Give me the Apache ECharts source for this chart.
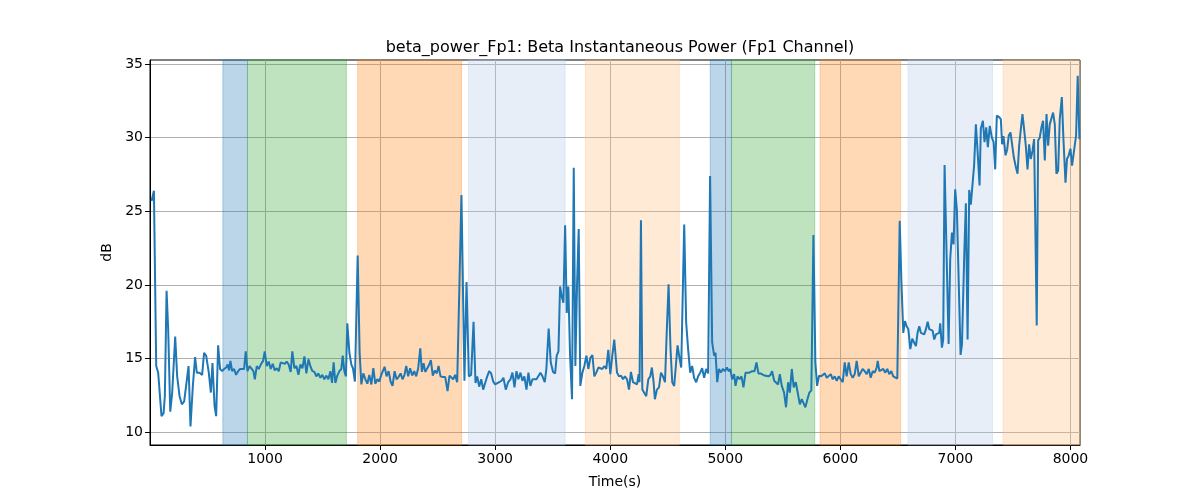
<!DOCTYPE html>
<html>
<head>
<meta charset="utf-8">
<script src="https://cdn.jsdelivr.net/npm/echarts@6/dist/echarts.min.js"></script>
<style>html,body{margin:0;padding:0;background:#fff;}#c{width:1200px;height:500px;}</style>
</head>
<body>
<div id="c"></div>
<script>
const times = [14,34,54,71,100,118,129,144,158,176,193,219,236,257,277,297,314,335,352,372,392,407,430,453,470,488,511,529,543,561,575,592,609,627,644,662,676,688,699,714,731,748,766,783,800,818,832,847,865,882,899,911,928,945,963,983,997,
1015,1032,1049,1067,1084,1101,1119,1136,1153,1171,1188,1205,1223,1237,1255,1273,1290,1307,1325,1342,1359,1377,1394,1411,1429,1446,1463,1481,1498,1515,1533,1550,1568,1582,1596,1611,1628,1646,1663,1675,1689,1703,1715,1733,1750,1764,1781,1805,1822,1837,1854,1872,1889,1906,1924,1941,1958,1976,1993,2010,
2022,2039,2056,2074,2091,2108,2126,2143,2160,2178,2195,2212,2227,2244,2261,2279,2296,2314,2331,2349,2363,2378,2392,2410,2427,2441,2458,2476,2493,2508,2525,2545,2566,2586,2603,2620,2635,2652,2670,2687,2707,2733,2751,2771,2791,2812,2829,2844,2861,2879,2896,2913,2931,2948,2965,2983,3000,
3017,3035,3055,3072,3092,3113,3133,3150,3168,3185,3202,3220,3237,3254,3272,3289,3306,3324,3341,3359,3376,3393,3411,3431,3445,3465,3483,3503,3521,3535,3550,3564,3578,3593,3608,3622,3636,3651,3668,3683,3697,3712,3726,3740,3758,3775,3793,3810,3827,3845,3862,3879,3897,3914,3931,3949,3966,3983,4001,4018,4035,
4059,4076,4094,4111,4128,4146,4163,4180,4198,4215,4233,4247,4255,4267,4279,4296,4313,4331,4348,4362,4377,4388,4406,4424,4441,4458,4476,4490,4507,4524,4539,4556,4568,4585,4602,4617,4643,4660,4677,4695,4712,4729,4747,4764,4782,4799,4816,4834,4851,4868,4886,4903,4915,4930,4945,4962,4979,4997,5014,5031,
5043,5060,5077,5089,5106,5124,5141,5158,5176,5193,5210,5234,5254,5271,5288,5306,5323,5341,5358,5375,5393,5407,5425,5442,5459,5474,5491,5511,5528,5546,5561,5578,5595,5613,5630,5648,5665,5682,5696,5714,5731,5748,5766,5783,5798,5815,5833,5850,5865,5882,5899,5917,5934,5951,5969,5986,6003,6021,6038,
6055,6073,6090,6108,6125,6142,6160,6177,6194,6212,6229,6247,6264,6281,6299,6316,6325,6339,6356,6373,6391,6408,6425,6443,6460,6477,6495,6516,6530,6547,6562,6576,6591,6608,6625,6642,6657,6671,6686,6700,6715,6729,6744,6759,6773,6787,6802,6816,6831,6845,6860,6868,6883,6894,6906,6941,6955,6970,6984,6998,7013,7028,7045,7057,7077,7091,7106,7120,7134,7149,7163,7178,
7195,7210,7221,7239,7253,7268,7282,7299,7317,7332,7346,7360,7380,7395,7406,7418,7436,7450,7464,7479,7493,7508,7523,7540,7554,7569,7583,7597,7612,7627,7641,7655,7670,7684,7696,7707,7719,7733,7748,7762,7777,7792,7806,7820,7835,7849,7864,7878,7893,7907,7925,7939,7957,7970,7985,8000,8014,8029,8049,8063,8078];

const powerDb = [25.7,26.4,14.5,14.05,11.1,11.3,12.45,19.6,17.0,11.4,12.7,16.5,13.8,12.45,11.9,12.1,12.2,14.5,10.4,13.1,15.1,14.05,14.05,13.9,15.4,15.2,14.05,12.7,14.7,11.8,11.1,15.9,14.3,14.15,14.3,14.4,14.6,14.2,14.85,14.15,14.3,13.9,14.15,14.3,14.4,14.3,15.5,14.15,14.5,14.6,14.15,13.6,14.5,14.3,14.6,14.85,15.5,
14.5,14.8,14.3,14.65,14.2,14.35,14.15,14.75,14.7,14.65,14.8,14.6,14.1,15.5,14.35,14.5,13.9,14.6,14.35,15.15,14.0,14.95,14.5,14.15,14.1,13.8,14.0,13.7,13.9,13.6,13.85,13.6,14.15,13.35,14.75,13.35,13.85,14.15,14.3,15.2,14.15,13.8,17.4,15.4,14.6,14.35,13.45,22.0,15.4,13.25,14.0,13.6,13.3,13.9,13.25,14.35,13.3,13.6,13.45,13.9,
14.0,14.45,13.8,14.15,13.45,13.15,14.15,13.6,13.75,14.0,13.6,13.9,14.5,13.8,14.35,13.85,14.15,13.8,14.35,15.7,14.1,14.7,14.1,14.35,14.6,14.9,13.85,14.2,14.0,14.5,13.8,13.75,13.75,12.8,13.85,13.75,13.6,13.9,13.4,13.35,26.1,13.5,20.2,13.8,13.9,17.5,13.35,13.8,13.1,13.6,12.9,13.35,13.8,14.15,14.0,13.45,13.25,
13.3,13.4,13.5,13.7,12.9,13.4,13.6,14.05,13.05,14.15,13.6,14.05,13.5,13.8,12.9,14.05,13.15,13.6,13.5,13.6,13.65,14.05,13.8,13.4,14.3,17.05,14.75,14.1,14.0,15.2,15.5,19.9,19.25,18.8,24.05,18.1,19.9,15.2,12.25,27.95,14.5,20.15,23.8,13.15,14.05,14.5,15.2,14.3,15.05,15.25,13.8,14.05,14.4,14.4,14.3,14.5,14.3,15.6,13.95,15.2,16.3,
14.05,13.8,13.85,13.6,13.8,13.6,12.9,14.1,13.4,13.45,13.25,13.95,13.4,24.4,12.9,12.8,12.45,13.6,13.8,14.4,13.4,12.25,12.9,13.05,14.05,13.8,13.4,16.55,20.05,15.65,13.4,13.15,13.25,15.9,15.05,14.4,24.1,17.45,15.65,14.05,14.5,13.7,13.4,13.8,14.05,14.35,13.7,14.3,14.0,27.4,16.1,15.2,15.4,13.4,14.3,14.05,14.3,14.15,14.4,14.15,
14.3,13.6,13.95,13.15,13.8,13.6,13.8,13.05,14.05,13.95,14.05,14.15,14.15,14.75,14.0,14.0,14.05,13.85,13.75,13.8,13.9,14.15,13.5,13.4,13.25,13.95,13.15,12.7,11.7,13.4,12.7,14.3,13.05,13.4,13.4,11.9,12.25,12.25,11.7,12.25,12.7,12.85,23.4,14.75,13.15,13.85,13.8,13.8,14.0,13.7,13.65,13.95,13.6,13.8,13.5,13.8,13.6,13.4,14.75,
13.8,14.75,13.95,13.7,13.95,14.85,13.8,13.7,14.3,14.15,13.95,14.3,13.7,14.15,14.05,14.4,14.85,14.15,14.05,14.3,14.05,14.3,13.95,14.15,13.8,13.7,13.65,24.35,20.4,16.75,17.55,17.2,17.0,15.65,16.35,16.3,15.85,16.75,17.2,16.75,16.8,16.65,17.0,17.5,17.0,17.05,16.9,16.3,16.65,16.7,16.75,17.4,15.75,16.3,28.15,16.0,21.75,23.55,22.75,26.5,25.1,25.0,15.25,15.95,22.05,25.55,16.3,26.45,25.45,25.35,28.15,30.9,
28.8,26.75,30.6,31.15,29.7,30.7,29.35,30.8,30.0,29.7,27.85,31.5,31.4,31.25,29.55,30.1,28.8,29.2,30.15,30.35,30.4,28.65,28.1,27.55,29.45,30.6,31.6,30.6,29.45,27.85,29.55,28.55,29.1,29.9,29.9,17.25,29.8,30.0,30.7,31.15,28.45,31.6,29.45,30.9,30.9,31.7,30.9,27.55,27.75,31.25,32.75,29.9,26.95,28.55,28.8,29.25,28.1,28.0,30.15,34.2,29.9];

const spanStarts = [633, 847, 1805, 2768, 3784, 4869, 5054, 5824, 6588, 7415];
const spanEnds   = [847, 1707, 2708, 3608, 4600, 5054, 5778, 6524, 7323, 8083];
const spanKinds  = [0, 1, 2, 3, 4, 0, 1, 2, 3, 4];

const xTicks = [1000, 2000, 3000, 4000, 5000, 6000, 7000, 8000];
const yTicks = [10, 15, 20, 25, 30, 35];

const spanPalette = ['rgba(31,119,180,0.3)', 'rgba(44,160,44,0.3)', 'rgba(255,127,14,0.3)', 'rgba(174,199,232,0.3)', 'rgba(255,187,120,0.3)'];

const lineData = times.map((t, i) => [t, powerDb[i]]);
const areas = spanStarts.map((s, i) => [
  { xAxis: s, itemStyle: { color: spanPalette[spanKinds[i]], borderColor: spanPalette[spanKinds[i]], borderWidth: 1 } },
  { xAxis: spanEnds[i] }
]);

const FONT = 'DejaVu Sans';
const chart = echarts.init(document.getElementById('c'), null, { renderer: 'canvas' });
chart.setOption({
  animation: false,
  backgroundColor: '#ffffff',
  title: {
    text: 'beta_power_Fp1: Beta Instantaneous Power (Fp1 Channel)',
    left: 615, top: 35, textAlign: 'center',
    textStyle: { fontFamily: FONT, fontSize: 16, fontWeight: 'normal', color: '#000' }
  },
  grid: { left: 150, right: 120, top: 60, bottom: 55, show: true, borderColor: '#000', borderWidth: 1, backgroundColor: 'transparent' },
  xAxis: {
    type: 'value', min: 0, max: 8083, interval: 1000,
    name: 'Time(s)', nameLocation: 'middle', nameGap: 30,
    nameTextStyle: { fontFamily: FONT, fontSize: 14, color: '#000' },
    axisLine: { show: true, lineStyle: { color: '#000', width: 1 } },
    axisTick: { show: true, length: 5, lineStyle: { color: '#000' }, customValues: xTicks },
    axisLabel: { fontFamily: FONT, fontSize: 14, color: '#000', margin: 7, customValues: xTicks,
      formatter: v => (xTicks.indexOf(Math.round(v)) >= 0 && Math.abs(v - Math.round(v)) < 1e-6) ? String(Math.round(v)) : '' },
    splitLine: { show: true, lineStyle: { color: '#b0b0b0', width: 1 } }
  },
  yAxis: {
    type: 'value', min: 9.14, max: 35.27, splitNumber: 5,
    name: 'dB', nameLocation: 'middle', nameGap: 31, nameRotate: 90,
    nameTextStyle: { fontFamily: FONT, fontSize: 14, color: '#000' },
    axisLine: { show: true, lineStyle: { color: '#000', width: 1 } },
    axisTick: { show: true, length: 5, lineStyle: { color: '#000' }, customValues: yTicks },
    axisLabel: { fontFamily: FONT, fontSize: 14, color: '#000', margin: 7, customValues: yTicks,
      formatter: v => (Math.abs(v - Math.round(v)) < 1e-6 && yTicks.indexOf(Math.round(v)) >= 0) ? String(Math.round(v)) : '' },
    splitLine: { show: true, lineStyle: { color: '#b0b0b0', width: 1 } }
  },
  series: [{
    type: 'line',
    data: lineData,
    showSymbol: false,
    symbol: 'none',
    lineStyle: { color: '#1f77b4', width: 2 },
    itemStyle: { color: '#1f77b4' },
    z: 3,
    markArea: { silent: true, data: areas }
  }]
});
</script>
</body>
</html>
